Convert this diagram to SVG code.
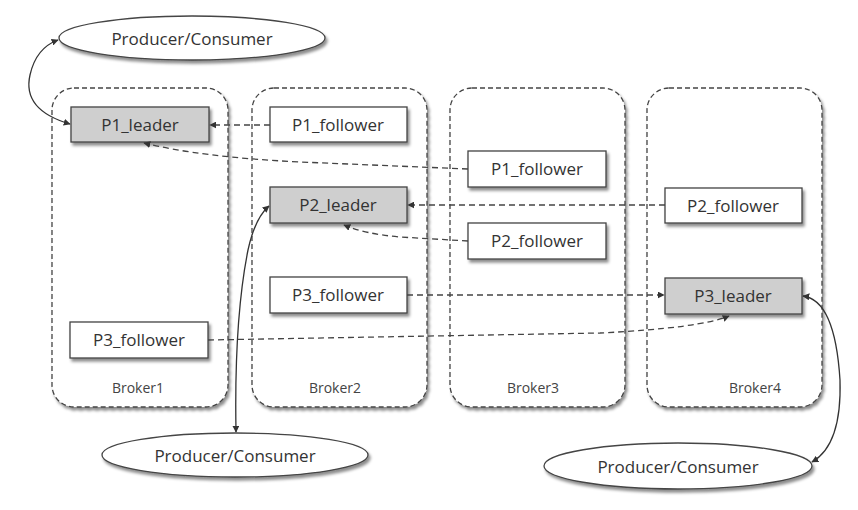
<svg xmlns="http://www.w3.org/2000/svg" width="858" height="510" viewBox="0 0 858 510">
<defs>
<filter id="sh" x="-10%" y="-10%" width="130%" height="140%">
<feDropShadow dx="2" dy="3" stdDeviation="1.8" flood-color="#000" flood-opacity="0.45"/>
</filter>
<marker id="ah" viewBox="0 0 10 10" refX="9" refY="5" markerWidth="7" markerHeight="7" orient="auto-start-reverse" markerUnits="userSpaceOnUse">
<path d="M0,0 L10,5 L0,10 z" fill="#333"/>
</marker>
<style>
.broker{fill:#fff;stroke:#444;stroke-width:1.3;stroke-dasharray:5 3;filter:url(#sh)}
.leader{fill:#cfcfcf;stroke:#444;stroke-width:1.3;filter:url(#sh)}
.follower{fill:#fff;stroke:#444;stroke-width:1.3;filter:url(#sh)}
.pc{fill:#fff;stroke:#444;stroke-width:1.3;filter:url(#sh)}
.t{font-family:"Open Sans","Liberation Sans",Arial,sans-serif;font-size:17px;fill:#333;text-anchor:middle;dominant-baseline:central}
.bt{font-family:"Open Sans","Liberation Sans",Arial,sans-serif;font-size:14px;fill:#444;text-anchor:middle}
.pt{font-family:"Open Sans","Liberation Sans",Arial,sans-serif;font-size:17px;fill:#333;text-anchor:middle;dominant-baseline:central}
.dash{fill:none;stroke:#444;stroke-width:1.3;stroke-dasharray:6 4}
.solid{fill:none;stroke:#333;stroke-width:1.3}
</style>
</defs>
<rect width="858" height="510" fill="#fff"/>

<g id="broker1"><rect class="broker" x="52" y="88" width="176" height="319" rx="22"/><text class="bt" x="138" y="393">Broker1</text></g>
<g id="broker2"><rect class="broker" x="252" y="88" width="175" height="319" rx="22"/><text class="bt" x="335" y="393">Broker2</text></g>
<g id="broker3"><rect class="broker" x="450" y="88" width="175" height="319" rx="22"/><text class="bt" x="533" y="393">Broker3</text></g>
<g id="broker4"><rect class="broker" x="647" y="88" width="175" height="319" rx="22"/><text class="bt" x="755" y="393">Broker4</text></g>

<g id="p1-leader"><rect class="leader" x="71" y="107" width="138" height="35"/><text class="t" x="140" y="124">P1_leader</text></g>
<g id="p1-follower-b2"><rect class="follower" x="270" y="107" width="137" height="35"/><text class="t" x="338" y="124">P1_follower</text></g>
<g id="p2-leader"><rect class="leader" x="270" y="187" width="137" height="36"/><text class="t" x="338" y="204">P2_leader</text></g>
<g id="p3-follower-b2"><rect class="follower" x="270" y="277" width="137" height="36"/><text class="t" x="338" y="294">P3_follower</text></g>
<g id="p3-follower-b1"><rect class="follower" x="70" y="322" width="138" height="36"/><text class="t" x="139" y="339">P3_follower</text></g>
<g id="p1-follower-b3"><rect class="follower" x="468" y="151" width="138" height="36"/><text class="t" x="537" y="168">P1_follower</text></g>
<g id="p2-follower-b3"><rect class="follower" x="468" y="223" width="138" height="36"/><text class="t" x="537" y="240">P2_follower</text></g>
<g id="p2-follower-b4"><rect class="follower" x="665" y="188" width="137" height="35"/><text class="t" x="733" y="205">P2_follower</text></g>
<g id="p3-leader"><rect class="leader" x="665" y="278" width="137" height="36"/><text class="t" x="733" y="295">P3_leader</text></g>

<g id="pc1"><ellipse class="pc" cx="192" cy="38" rx="133" ry="22"/><text class="pt" x="192" y="38">Producer/Consumer</text></g>
<g id="pc2"><ellipse class="pc" cx="235" cy="455" rx="133" ry="22"/><text class="pt" x="235" y="455">Producer/Consumer</text></g>
<g id="pc3"><ellipse class="pc" cx="678" cy="466" rx="134" ry="23"/><text class="pt" x="678" y="466">Producer/Consumer</text></g>

<g id="connectors">
<path class="dash" d="M270,125 L210,125" marker-end="url(#ah)"/>
<path class="dash" d="M468,169 L300,162 Q200,157 144,143" marker-end="url(#ah)"/>
<path class="dash" d="M665,205 L408,205" marker-end="url(#ah)"/>
<path class="dash" d="M468,241 L400,237 Q365,234 344,225" marker-end="url(#ah)"/>
<path class="dash" d="M407,295 L664,295" marker-end="url(#ah)"/>
<path class="dash" d="M208,340 L600,333 Q700,328 729,316" marker-end="url(#ah)"/>
<path class="solid" d="M70,124 Q22,110 30,75 Q36,48 58,40" marker-start="url(#ah)" marker-end="url(#ah)"/>
<path class="solid" d="M236,432 Q234,320 248,250 Q255,218 269,206" marker-start="url(#ah)" marker-end="url(#ah)"/>
<path class="solid" d="M803,296 Q835,300 840,380 Q842,445 812,462" marker-start="url(#ah)" marker-end="url(#ah)"/>
</g>
</svg>
